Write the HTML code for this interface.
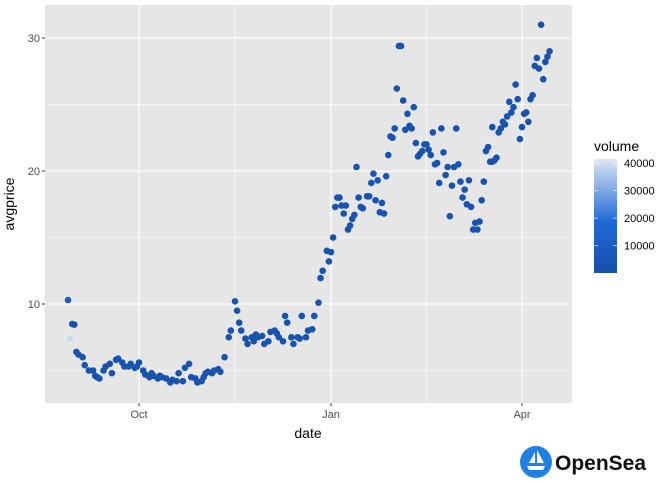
<!DOCTYPE html>
<html><head><meta charset="utf-8"><style>
body{margin:0;background:#fff;font-family:"Liberation Sans",sans-serif}
svg text{font-family:"Liberation Sans",sans-serif}
</style></head><body>
<svg id="chart" width="672" height="480" viewBox="0 0 672 480" xmlns="http://www.w3.org/2000/svg">
<defs><linearGradient id="vg" x1="0" y1="1" x2="0" y2="0">
<stop offset="0" stop-color="#1750a8"/><stop offset="0.45" stop-color="#1f6ad6"/><stop offset="1" stop-color="#dde6f4"/></linearGradient></defs>
<rect x="45" y="5" width="527" height="398" fill="#e6e6e6"/>
<g id="grid"></g><g id="pts"></g><g id="axes"></g>
<text x="14" y="204" font-size="14" fill="#000" text-anchor="middle" transform="rotate(-90 14 204)">avgprice</text>
<text x="308" y="438" font-size="14" fill="#000" text-anchor="middle">date</text>
<g>
<text x="594" y="151" font-size="14" fill="#000">volume</text>
<rect x="594" y="159" width="23" height="114" fill="url(#vg)"/>
<g id="leg"></g>
</g>
<g>
<circle cx="536" cy="462" r="16" fill="#2081e2"/>
<path d="M527 466 h18 l-2 4 h-14 z M535 452 l-6 11 h6 z M537 450 v13 h7 z" fill="#fff"/>
<text x="555" y="470" font-size="21" font-weight="bold" fill="#111">OpenSea</text>
</g>
</svg>
<script>
const days=[-34,-33,-32,-31,-30,-29,-27,-26,-24,-22,-21,-20,-19,-17,-16,-14,-13,-11,-10,-8,-7,-5,-4,-2,-1,0,2,3,5,6,7,9,10,11,13,15,16,18,19,21,22,24,25,27,28,30,31,32,33,35,36,38,39,41,43,44,46,47,48,49,51,52,54,55,56,57,59,60,62,63,65,66,67,69,70,71,73,74,76,77,78,80,81,83,84,86,
87,88,90,91,92,93,94,95,96,97,98,99,100,101,102,103,104,105,106,107,109,110,111,112,113,114,115,116,117,118,119,120,121,122,123,124,125,126,127,128,129,130,131,132,133,134,135,136,137,138,139,140,141,142,143,144,145,146,147,148,149,150,151,152,153,154,155,156,157,158,159,160,161,162,163,164,165,166,167,168,168,169,170,171,172,173,174,175,176,177,178,179,180,181,182,183,184,185,186,187,188,189,190,191,192,193,194,195];
const prices=[10.3,7.4,8.5,8.45,6.4,6.2,6.0,5.4,5.0,5.0,4.6,4.5,4.4,5.0,5.3,5.5,4.8,5.8,5.9,5.6,5.3,5.3,5.5,5.2,5.3,5.6,5.0,4.7,4.5,4.8,4.6,4.4,4.6,4.5,4.4,4.1,4.3,4.2,4.8,4.2,5.2,5.5,4.5,4.4,4.1,4.2,4.5,4.8,4.9,4.8,5.0,5.1,4.9,6.0,7.5,8.0,10.2,9.5,8.6,8.0,7.4,7.0,7.5,7.2,7.7,7.5,7.6,7.0,7.2,7.9,8.0,7.8,7.5,7.2,9.1,8.6,7.5,7.0,7.5,7.4,9.1,7.5,8.0,8.1,9.1,10.1,
11.95,12.5,14.0,13.2,13.9,15.0,17.3,18.0,18.0,17.4,16.8,17.4,15.6,15.9,16.4,16.7,20.3,18.0,17.3,17.2,18.1,18.1,19.1,19.8,17.8,19.3,16.9,17.6,16.8,19.6,21.2,22.6,22.5,23.2,26.2,29.4,29.4,25.3,23.1,24.3,23.4,23.2,24.8,22.1,21.1,21.3,21.5,22.0,22.0,21.6,21.2,22.9,20.5,20.6,19.1,23.2,21.4,19.7,20.3,16.6,18.9,20.3,23.2,20.5,19.2,18.0,18.6,17.5,19.3,17.3,15.6,16.1,15.6,16.2,17.8,19.2,21.5,21.8,20.7,20.7,23.3,20.8,21.0,22.9,23.2,23.7,23.5,24.1,25.2,24.4,24.8,26.5,25.4,22.4,23.3,24.3,24.4,23.7,25.4,25.7,27.9,28.5,27.7,31.0,26.9,28.2,28.6,29.0];
const volumeDays=[-33,-34,-32];
const volumeValues=[40000,9000,6000];
const baseVolume=3000;
const yTicks=[10,20,30];
const xTickDays=[0,92,182];
const xTickLabels=["Oct","Jan","Apr"];
const legendTicks=[10000,20000,30000,40000];

const NS="http://www.w3.org/2000/svg";
function X(d){return d<=92?139+d*(192/92):331+(d-92)*(191/90);}
function Y(v){return 304-(v-10)*13.3;}
function LY(v){return 273-(v/41500)*114;}
function mk(tag,attrs,parent){const e=document.createElementNS(NS,tag);for(const k in attrs)e.setAttribute(k,attrs[k]);parent.appendChild(e);return e;}
function col(v){const t=Math.min(1,v/42000);
 const a=[23,80,168],b=[31,106,214],c=[221,230,244];let r;
 if(t<0.45){const u=t/0.45;r=a.map((x,i)=>x+(b[i]-x)*u);}else{const u=(t-0.45)/0.55;r=b.map((x,i)=>x+(c[i]-x)*u);}
 return "rgb("+r.map(Math.round).join(",")+")";}
const grid=document.getElementById('grid'),pts=document.getElementById('pts'),axes=document.getElementById('axes'),leg=document.getElementById('leg');
[5,15,25].forEach(v=>{const l=mk('line',{x1:45,x2:572,y1:Y(v),y2:Y(v),stroke:'#fff','stroke-width':0.55},grid);

});
[46,137].forEach(d=>{const l=mk('line',{x1:X(d),x2:X(d),y1:5,y2:403,stroke:'#fff','stroke-width':0.55},grid);

});
yTicks.forEach(v=>{const l=mk('line',{x1:45,x2:572,y1:Y(v),y2:Y(v),stroke:'#fff','stroke-width':1.1},grid);


const t=mk('text',{x:40,y:Y(v)+4,'font-size':11,fill:'#4d4d4d','text-anchor':'end'},axes);t.textContent=v;


const k=mk('line',{x1:42,x2:45,y1:Y(v),y2:Y(v),stroke:'#333','stroke-width':1},axes);

});
xTickDays.forEach((d,i)=>{const l=mk('line',{x1:X(d),x2:X(d),y1:5,y2:403,stroke:'#fff','stroke-width':1.1},grid);


const t=mk('text',{x:X(d),y:418,'font-size':11,fill:'#4d4d4d','text-anchor':'middle'},axes);t.textContent=xTickLabels[i];


const k=mk('line',{x1:X(d),x2:X(d),y1:403,y2:406,stroke:'#333','stroke-width':1},axes);

});
days.forEach((d,i)=>{let vol=baseVolume;const j=volumeDays.indexOf(d);if(j>=0&&i<3)vol=volumeValues[j];
const c=mk('circle',{cx:X(d),cy:Y(prices[i]),r:3.3,fill:col(vol)},pts);

});
legendTicks.forEach(v=>{const y=LY(v);
const a=mk('line',{x1:594,x2:598,y1:y,y2:y,stroke:'#fff','stroke-width':0.6},leg);


const b=mk('line',{x1:613,x2:617,y1:y,y2:y,stroke:'#fff','stroke-width':0.6},leg);


const t=mk('text',{x:624,y:y+4,'font-size':11,fill:'#000'},leg);t.textContent=v;

});
</script>
</body></html>
